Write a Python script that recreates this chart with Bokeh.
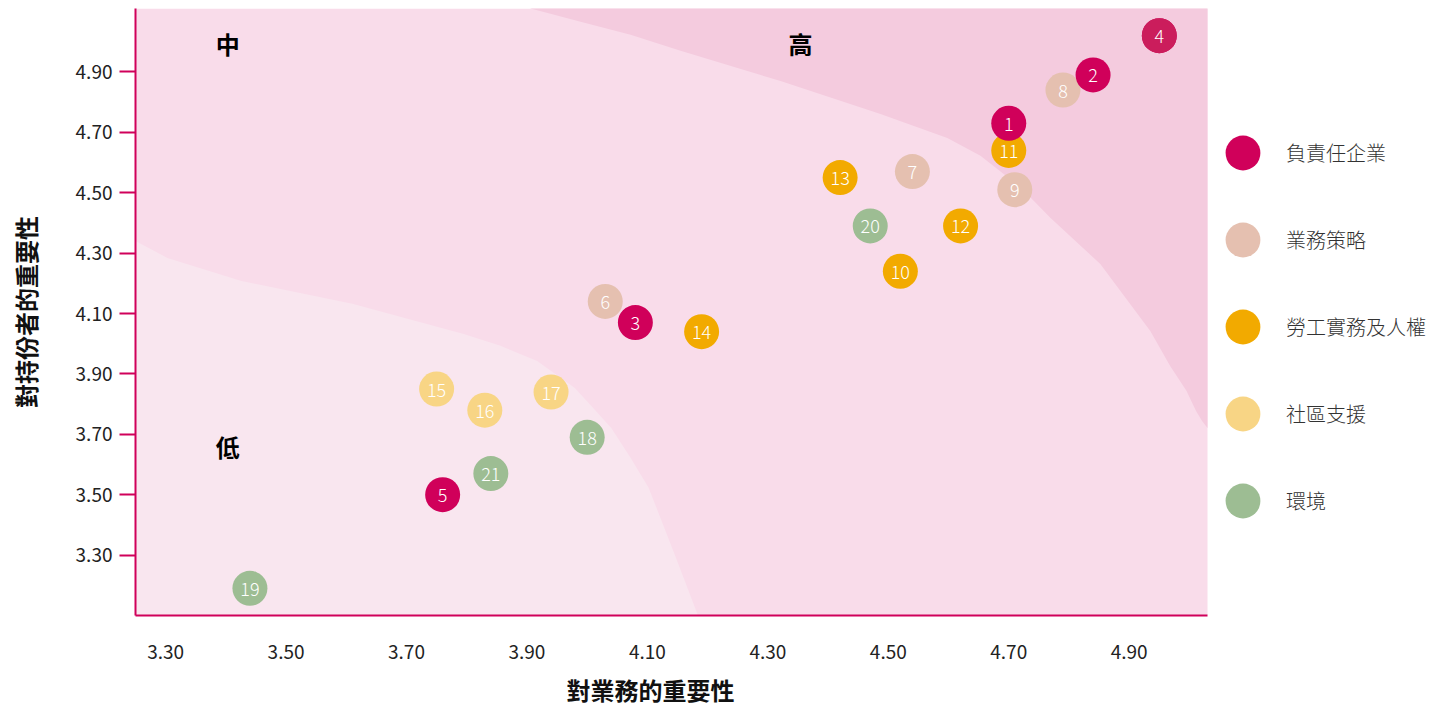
from bokeh.plotting import figure
from bokeh.models import ColumnDataSource, Range1d, FixedTicker, Legend, LegendItem, CustomJSTickFormatter, Title
from bokeh.core.properties import value
from bokeh.embed import file_html
from bokeh.resources import INLINE

FONT = "Noto Sans CJK TC"
LIGHT = "'Noto Sans CJK TC Light', 'Noto Sans CJK TC'"

# ---- data ----
categories = ["負責任企業", "業務策略", "勞工實務及人權", "社區支援", "環境"]
cat_colors = ["#d0005a", "#e5c0b0", "#f2aa00", "#f8d585", "#9dbd93"]

ids      = [1, 2, 3, 4, 5, 6, 7, 8, 9, 10, 11, 12, 13, 14, 15, 16, 17, 18, 19, 20, 21]
business = [4.70, 4.84, 4.08, 4.95, 3.76, 4.03, 4.54, 4.79, 4.71, 4.52, 4.70,
            4.62, 4.42, 4.19, 3.75, 3.83, 3.94, 4.00, 3.44, 4.47, 3.84]
stakeholder = [4.73, 4.89, 4.07, 5.02, 3.50, 4.14, 4.57, 4.84, 4.51, 4.24, 4.64,
               4.39, 4.55, 4.04, 3.85, 3.78, 3.84, 3.69, 3.19, 4.39, 3.57]
group = [0, 0, 0, 0, 0, 1, 1, 1, 1, 2, 2, 2, 2, 2, 3, 3, 3, 4, 4, 4, 4]

x_ticks = [3.30, 3.50, 3.70, 3.90, 4.10, 4.30, 4.50, 4.70, 4.90]
y_ticks = [3.30, 3.50, 3.70, 3.90, 4.10, 4.30, 4.50, 4.70, 4.90]

x_title = "對業務的重要性"
y_title = "對持份者的重要性"

zone_labels = ["中", "高", "低"]
zone_x = [3.403, 4.354, 3.403]
zone_y = [4.993, 4.993, 3.658]

# zone boundaries (decorative background)
high_bx = [3.906, 3.989, 4.072, 4.155, 4.321, 4.487, 4.598, 4.653, 4.719, 4.769,
           4.852, 4.935, 4.968, 4.995, 5.011, 5.021, 5.030]
high_by = [5.110, 5.066, 5.023, 4.970, 4.870, 4.761, 4.681, 4.622, 4.519, 4.417,
           4.264, 4.042, 3.926, 3.844, 3.777, 3.744, 3.721]
low_bx = [3.250, 3.303, 3.426, 3.610, 3.795, 3.856, 3.917, 3.979, 4.010, 4.040,
          4.072, 4.102, 4.145, 4.183]
low_by = [4.340, 4.284, 4.208, 4.132, 4.032, 3.993, 3.943, 3.854, 3.787, 3.721,
          3.622, 3.523, 3.304, 3.105]

X0, X1 = 3.25, 5.03
Y0, Y1 = 3.10, 5.11

# layout: plot area 135..1207 px for X0..X1; frame extends to the window edge to host the legend
W, H = 1445, 715
LEFT, PLOT_RIGHT = 135, 1207
px_per_unit = (PLOT_RIGHT - LEFT) / (X1 - X0)
X_VIEW_END = X1 + (W - PLOT_RIGHT) / px_per_unit

p = figure(width=W, height=H, output_backend="svg", toolbar_location=None,
           x_range=Range1d(X0, X_VIEW_END), y_range=Range1d(Y0, Y1),
           min_border_left=LEFT, min_border_right=0, min_border_top=8, min_border_bottom=100)

p.background_fill_color = "white"
p.border_fill_color = "white"
p.outline_line_color = None
p.xgrid.visible = False
p.ygrid.visible = False

# background zones
p.quad(left=[X0], right=[X1], bottom=[Y0], top=[Y1], fill_color="#f9dcea", line_color=None)
hx = high_bx + [X1, X1, high_bx[0]]
hy = high_by + [high_by[-1], Y1 + 0.05, Y1 + 0.05]
p.patch(hx, hy, fill_color="#f4cbde", line_color=None)
lx = low_bx + [low_bx[-1], X0 - 0.05, X0 - 0.05]
ly = low_by + [Y0 - 0.05, Y0 - 0.05, low_by[0]]
p.patch(lx, ly, fill_color="#f9e6ef", line_color=None)

# zone labels
p.text(zone_x, zone_y, text=zone_labels, text_align="center", text_baseline="middle",
       text_color="black", text_font=value(FONT), text_font_size="24px", text_font_style="bold")

# points by category, crimson drawn last
renderers = {}
for g in [4, 3, 2, 1, 0]:
    idx = [i for i in range(len(ids)) if group[i] == g]
    idx = sorted(idx, key=lambda i: -ids[i])
    src = ColumnDataSource(dict(x=[business[i] for i in idx], y=[stakeholder[i] for i in idx]))
    r = p.scatter("x", "y", source=src, size=35, fill_color=cat_colors[g], line_color=None)
    renderers[g] = r

# point 4 slightly different tone
i4 = ids.index(4)
p.scatter([business[i4]], [stakeholder[i4]], size=35, fill_color="#cb1d5c", line_color=None)

p.text(business, stakeholder, text=[str(i) for i in ids], text_align="center",
       text_baseline="middle", text_color="white", text_font=value(LIGHT),
       text_font_size="18px", text_font_style="normal", y_offset=1)

# axes
for ax in [p.xaxis[0], p.yaxis[0]]:
    ax.axis_line_color = "#d0005a"
    ax.axis_line_width = 2
    ax.minor_tick_line_color = None
    ax.major_label_text_font = FONT
    ax.major_label_text_font_size = "19px"
    ax.major_label_text_color = "#222222"
    ax.axis_label_text_font = FONT
    ax.axis_label_text_font_size = "24px"
    ax.axis_label_text_font_style = "bold"
    ax.axis_label_text_color = "#111111"

fmt = CustomJSTickFormatter(code="return tick.toFixed(2);")
p.xaxis[0].ticker = FixedTicker(ticks=x_ticks)
p.yaxis[0].ticker = FixedTicker(ticks=y_ticks)
p.xaxis[0].formatter = fmt
p.yaxis[0].formatter = fmt
p.xaxis[0].bounds = (X0, X1)

p.xaxis[0].major_tick_line_color = None
p.xaxis[0].major_tick_out = 0
p.xaxis[0].major_tick_in = 0
p.xaxis[0].major_label_standoff = 29

p.yaxis[0].major_tick_line_color = "#d0005a"
p.yaxis[0].major_tick_line_width = 2
p.yaxis[0].major_tick_out = 16
p.yaxis[0].major_tick_in = 0
p.yaxis[0].major_label_standoff = 7
p.yaxis[0].axis_label = y_title
p.yaxis[0].axis_label_standoff = 30

# x-axis title, centred under the plot area (not under the whole frame)
xt = Title(text=x_title, align="left", offset=566 - LEFT, standoff=17,
           text_font=FONT, text_font_size="24px", text_font_style="bold", text_color="#111111")
p.add_layout(xt, "below")

# legend, in the white area right of the plot area
items = [LegendItem(label=categories[g], renderers=[renderers[g]]) for g in range(5)]
legend = Legend(items=items, location=(1064, 71), orientation="vertical",
                glyph_width=87, glyph_height=87, spacing=0, padding=0, margin=0,
                label_standoff=0, border_line_color=None, background_fill_alpha=0,
                label_text_font=LIGHT, label_text_font_size="20px", label_text_color="#333333")
p.add_layout(legend)

open("out.html", "w").write(file_html(p, INLINE))
